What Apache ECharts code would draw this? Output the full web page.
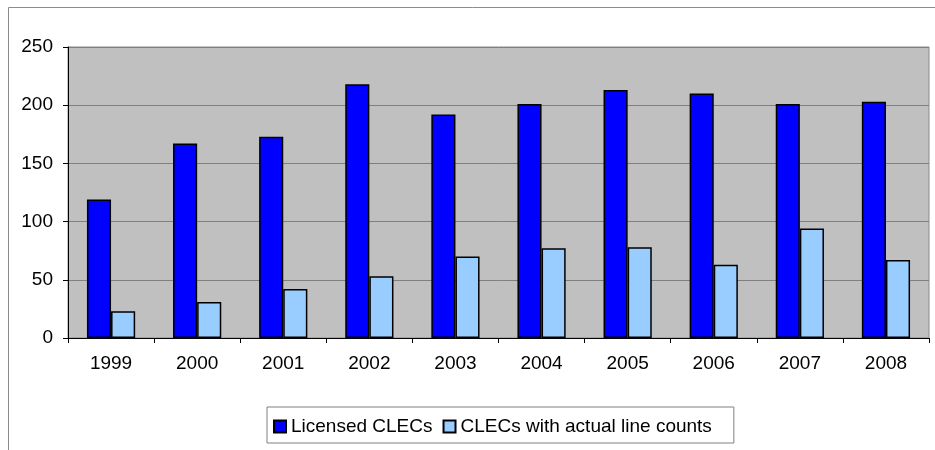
<!DOCTYPE html>
<html>
<head>
<meta charset="utf-8">
<script src="https://cdn.jsdelivr.net/npm/echarts@6/dist/echarts.min.js"></script>
<style>
  html, body { margin: 0; padding: 0; background: #fff; }
  #chart { width: 935px; height: 450px; }
</style>
</head>
<body>
<div id="chart"></div>
<script>
// Yearly counts of competitive local exchange carriers
const years = ['1999', '2000', '2001', '2002', '2003', '2004', '2005', '2006', '2007', '2008'];
const licensedClecs = [119, 167, 173, 218, 192, 201, 213, 210, 201, 203];
const clecsWithLines = [23, 31, 42, 53, 70, 77, 78, 63, 94, 67];
const seriesNames = ['Licensed CLECs', 'CLECs with actual line counts'];

const FONT = '"Liberation Sans", Arial, sans-serif';

const chart = echarts.init(document.getElementById('chart'), null, { renderer: 'canvas' });

chart.setOption({
  animation: false,
  backgroundColor: '#ffffff',
  textStyle: { fontFamily: FONT },
  graphic: [{
    type: 'rect',
    left: 6, top: 5,
    shape: { width: 940, height: 460 },
    style: { fill: 'none', stroke: '#8c8c8c', lineWidth: 1 },
    silent: true,
    z: -10
  }],
  grid: {
    left: 68, right: 6, top: 47, bottom: 112,
    show: true,
    backgroundColor: '#c0c0c0',
    borderColor: '#8a8a8a',
    borderWidth: 1
  },
  legend: {
    data: seriesNames,
    left: 267, top: 407,
    orient: 'horizontal',
    itemWidth: 12, itemHeight: 12,
    itemGap: 10,
    padding: [10, 22, 7, 6],
    borderColor: '#808080', borderWidth: 1,
    backgroundColor: '#ffffff',
    icon: 'rect',
    textStyle: { fontFamily: FONT, fontSize: 19, color: '#000' }
  },
  xAxis: {
    type: 'category',
    data: years,
    axisLine: { show: true, lineStyle: { color: '#000', width: 1 } },
    axisTick: { show: true, length: 5, inside: false, lineStyle: { color: '#000' } },
    axisLabel: { margin: 16, fontFamily: FONT, fontSize: 19, color: '#000' },
    splitLine: { show: false }
  },
  yAxis: {
    type: 'value',
    min: 0, max: 250, interval: 50,
    axisLine: { show: true, lineStyle: { color: '#000', width: 1 } },
    axisTick: { show: true, length: 5, inside: false, lineStyle: { color: '#000' } },
    axisLabel: { margin: 15, fontFamily: FONT, fontSize: 19, color: '#000' },
    splitLine: { show: true, lineStyle: { color: '#808080', width: 1 } }
  },
  series: [
    {
      name: seriesNames[0],
      type: 'bar',
      data: licensedClecs,
      barGap: '0%',
      barCategoryGap: '44%',
      itemStyle: { color: '#0000ff', borderColor: '#000', borderWidth: 1.5 }
    },
    {
      name: seriesNames[1],
      type: 'bar',
      data: clecsWithLines,
      itemStyle: { color: '#99ccff', borderColor: '#000', borderWidth: 1.5 }
    }
  ]
});
</script>
</body>
</html>
